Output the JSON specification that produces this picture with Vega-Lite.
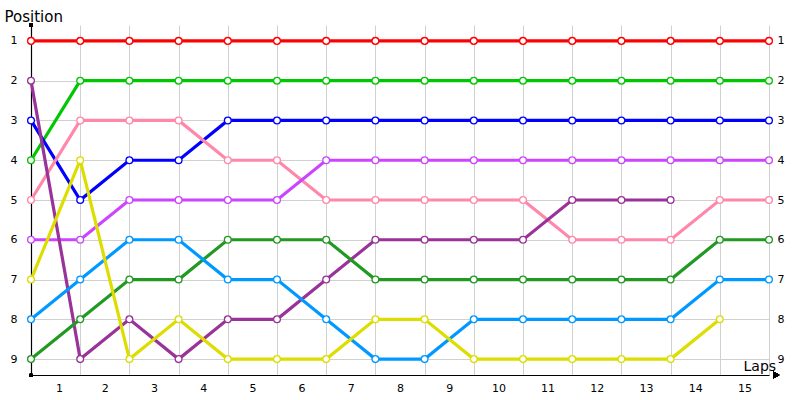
{
  "$schema": "https://vega.github.io/schema/vega-lite/v6.json",
  "width": 738,
  "height": 350,
  "autosize": {"type": "none"},
  "padding": {"left": 31, "top": 25, "right": 31, "bottom": 25},
  "background": "white",
  "config": {
    "view": {"stroke": null},
    "font": "DejaVu Sans",
    "axis": {"labelFont": "DejaVu Sans", "titleFont": "DejaVu Sans", "labelColor": "#000000", "titleColor": "#000000", "labelFontSize": 11, "titleFontWeight": "normal", "titleFontSize": 15, "gridColor": "#d0d0d0", "gridOpacity": 1, "gridWidth": 1}
  },
  "data": {"values": [
    {"car": "A", "lap": 0, "pos": 1}, {"car": "A", "lap": 1, "pos": 1}, {"car": "A", "lap": 2, "pos": 1}, {"car": "A", "lap": 3, "pos": 1}, {"car": "A", "lap": 4, "pos": 1}, {"car": "A", "lap": 5, "pos": 1}, {"car": "A", "lap": 6, "pos": 1}, {"car": "A", "lap": 7, "pos": 1}, {"car": "A", "lap": 8, "pos": 1}, {"car": "A", "lap": 9, "pos": 1}, {"car": "A", "lap": 10, "pos": 1}, {"car": "A", "lap": 11, "pos": 1}, {"car": "A", "lap": 12, "pos": 1}, {"car": "A", "lap": 13, "pos": 1}, {"car": "A", "lap": 14, "pos": 1}, {"car": "A", "lap": 15, "pos": 1},
    {"car": "B", "lap": 0, "pos": 4}, {"car": "B", "lap": 1, "pos": 2}, {"car": "B", "lap": 2, "pos": 2}, {"car": "B", "lap": 3, "pos": 2}, {"car": "B", "lap": 4, "pos": 2}, {"car": "B", "lap": 5, "pos": 2}, {"car": "B", "lap": 6, "pos": 2}, {"car": "B", "lap": 7, "pos": 2}, {"car": "B", "lap": 8, "pos": 2}, {"car": "B", "lap": 9, "pos": 2}, {"car": "B", "lap": 10, "pos": 2}, {"car": "B", "lap": 11, "pos": 2}, {"car": "B", "lap": 12, "pos": 2}, {"car": "B", "lap": 13, "pos": 2}, {"car": "B", "lap": 14, "pos": 2}, {"car": "B", "lap": 15, "pos": 2},
    {"car": "C", "lap": 0, "pos": 3}, {"car": "C", "lap": 1, "pos": 5}, {"car": "C", "lap": 2, "pos": 4}, {"car": "C", "lap": 3, "pos": 4}, {"car": "C", "lap": 4, "pos": 3}, {"car": "C", "lap": 5, "pos": 3}, {"car": "C", "lap": 6, "pos": 3}, {"car": "C", "lap": 7, "pos": 3}, {"car": "C", "lap": 8, "pos": 3}, {"car": "C", "lap": 9, "pos": 3}, {"car": "C", "lap": 10, "pos": 3}, {"car": "C", "lap": 11, "pos": 3}, {"car": "C", "lap": 12, "pos": 3}, {"car": "C", "lap": 13, "pos": 3}, {"car": "C", "lap": 14, "pos": 3}, {"car": "C", "lap": 15, "pos": 3},
    {"car": "D", "lap": 0, "pos": 5}, {"car": "D", "lap": 1, "pos": 3}, {"car": "D", "lap": 2, "pos": 3}, {"car": "D", "lap": 3, "pos": 3}, {"car": "D", "lap": 4, "pos": 4}, {"car": "D", "lap": 5, "pos": 4}, {"car": "D", "lap": 6, "pos": 5}, {"car": "D", "lap": 7, "pos": 5}, {"car": "D", "lap": 8, "pos": 5}, {"car": "D", "lap": 9, "pos": 5}, {"car": "D", "lap": 10, "pos": 5}, {"car": "D", "lap": 11, "pos": 6}, {"car": "D", "lap": 12, "pos": 6}, {"car": "D", "lap": 13, "pos": 6}, {"car": "D", "lap": 14, "pos": 5}, {"car": "D", "lap": 15, "pos": 5},
    {"car": "E", "lap": 0, "pos": 6}, {"car": "E", "lap": 1, "pos": 6}, {"car": "E", "lap": 2, "pos": 5}, {"car": "E", "lap": 3, "pos": 5}, {"car": "E", "lap": 4, "pos": 5}, {"car": "E", "lap": 5, "pos": 5}, {"car": "E", "lap": 6, "pos": 4}, {"car": "E", "lap": 7, "pos": 4}, {"car": "E", "lap": 8, "pos": 4}, {"car": "E", "lap": 9, "pos": 4}, {"car": "E", "lap": 10, "pos": 4}, {"car": "E", "lap": 11, "pos": 4}, {"car": "E", "lap": 12, "pos": 4}, {"car": "E", "lap": 13, "pos": 4}, {"car": "E", "lap": 14, "pos": 4}, {"car": "E", "lap": 15, "pos": 4},
    {"car": "F", "lap": 0, "pos": 2}, {"car": "F", "lap": 1, "pos": 9}, {"car": "F", "lap": 2, "pos": 8}, {"car": "F", "lap": 3, "pos": 9}, {"car": "F", "lap": 4, "pos": 8}, {"car": "F", "lap": 5, "pos": 8}, {"car": "F", "lap": 6, "pos": 7}, {"car": "F", "lap": 7, "pos": 6}, {"car": "F", "lap": 8, "pos": 6}, {"car": "F", "lap": 9, "pos": 6}, {"car": "F", "lap": 10, "pos": 6}, {"car": "F", "lap": 11, "pos": 5}, {"car": "F", "lap": 12, "pos": 5}, {"car": "F", "lap": 13, "pos": 5},
    {"car": "G", "lap": 0, "pos": 9}, {"car": "G", "lap": 1, "pos": 8}, {"car": "G", "lap": 2, "pos": 7}, {"car": "G", "lap": 3, "pos": 7}, {"car": "G", "lap": 4, "pos": 6}, {"car": "G", "lap": 5, "pos": 6}, {"car": "G", "lap": 6, "pos": 6}, {"car": "G", "lap": 7, "pos": 7}, {"car": "G", "lap": 8, "pos": 7}, {"car": "G", "lap": 9, "pos": 7}, {"car": "G", "lap": 10, "pos": 7}, {"car": "G", "lap": 11, "pos": 7}, {"car": "G", "lap": 12, "pos": 7}, {"car": "G", "lap": 13, "pos": 7}, {"car": "G", "lap": 14, "pos": 6}, {"car": "G", "lap": 15, "pos": 6},
    {"car": "H", "lap": 0, "pos": 8}, {"car": "H", "lap": 1, "pos": 7}, {"car": "H", "lap": 2, "pos": 6}, {"car": "H", "lap": 3, "pos": 6}, {"car": "H", "lap": 4, "pos": 7}, {"car": "H", "lap": 5, "pos": 7}, {"car": "H", "lap": 6, "pos": 8}, {"car": "H", "lap": 7, "pos": 9}, {"car": "H", "lap": 8, "pos": 9}, {"car": "H", "lap": 9, "pos": 8}, {"car": "H", "lap": 10, "pos": 8}, {"car": "H", "lap": 11, "pos": 8}, {"car": "H", "lap": 12, "pos": 8}, {"car": "H", "lap": 13, "pos": 8}, {"car": "H", "lap": 14, "pos": 7}, {"car": "H", "lap": 15, "pos": 7},
    {"car": "I", "lap": 0, "pos": 7}, {"car": "I", "lap": 1, "pos": 4}, {"car": "I", "lap": 2, "pos": 9}, {"car": "I", "lap": 3, "pos": 8}, {"car": "I", "lap": 4, "pos": 9}, {"car": "I", "lap": 5, "pos": 9}, {"car": "I", "lap": 6, "pos": 9}, {"car": "I", "lap": 7, "pos": 8}, {"car": "I", "lap": 8, "pos": 8}, {"car": "I", "lap": 9, "pos": 9}, {"car": "I", "lap": 10, "pos": 9}, {"car": "I", "lap": 11, "pos": 9}, {"car": "I", "lap": 12, "pos": 9}, {"car": "I", "lap": 13, "pos": 9}, {"car": "I", "lap": 14, "pos": 8}
  ]},
  "resolve": {"axis": {"y": "independent"}},
  "layer": [
    {
      "mark": {"type": "line", "strokeWidth": 3.2, "clip": false},
      "encoding": {
        "x": {"field": "lap", "type": "quantitative", "scale": {"domain": [0, 15], "nice": false, "zero": false},
          "axis": {"values": [0,1,2,3,4,5,6,7,8,9,10,11,12,13,14,15], "labelExpr": "datum.value < 15 ? datum.value + 1 : ''", "labelOffset": 24.6, "labelPadding": 7, "labelFontSize": 11, "ticks": false, "tickSize": 0, "grid": true, "domainColor": "#000000", "domainWidth": 1.2, "title": "Laps", "titleAngle": 0, "titleAlign": "left", "titleBaseline": "alphabetic", "titleX": 712, "titleY": -5, "titleFontSize": 14}},
        "y": {"field": "pos", "type": "quantitative", "scale": {"domain": [0.6, 9.4], "reverse": true, "nice": false, "zero": false},
          "axis": {"orient": "left", "values": [1,2,3,4,5,6,7,8,9], "ticks": false, "tickSize": 0, "labelPadding": 14, "grid": true, "domainColor": "#000000", "domainWidth": 1.2, "title": "Position", "titleAngle": 0, "titleAlign": "left", "titleBaseline": "alphabetic", "titleX": -27, "titleY": -4, "titleFontSize": 15}},
        "color": {"field": "car", "type": "nominal", "legend": null,
          "scale": {"domain": ["A","B","C","D","E","F","G","H","I"], "range": ["#ff0000","#00c800","#0000ff","#ff88aa","#cc44ff","#993399","#229922","#0099ff","#dddd00"]}}
      }
    },
    {
      "mark": {"type": "point", "filled": false, "fill": "white", "fillOpacity": 1, "opacity": 1, "strokeWidth": 1.3, "size": 46, "clip": false},
      "encoding": {
        "x": {"field": "lap", "type": "quantitative"},
        "y": {"field": "pos", "type": "quantitative",
          "axis": {"orient": "right", "values": [1,2,3,4,5,6,7,8,9], "ticks": false, "tickSize": 0, "labelPadding": 8, "grid": false, "domain": false, "title": null}},
        "color": {"field": "car", "type": "nominal", "legend": null}
      }
    },
    {
      "mark": {"type": "point", "filled": true, "color": "#000000", "opacity": 1, "size": 14, "clip": false},
      "encoding": {
        "x": {"datum": 0, "type": "quantitative"},
        "y": {"datum": 0.6, "type": "quantitative", "axis": null}
      }
    },
    {
      "mark": {"type": "point", "filled": true, "color": "#000000", "opacity": 1, "size": 10, "clip": false},
      "encoding": {
        "x": {"datum": 0, "type": "quantitative"},
        "y": {"datum": 9.4, "type": "quantitative", "axis": null}
      }
    },
    {
      "mark": {"type": "point", "filled": true, "shape": "triangle-right", "color": "#000000", "opacity": 1, "size": 40, "clip": false},
      "encoding": {
        "x": {"datum": 15.15, "type": "quantitative"},
        "y": {"datum": 9.4, "type": "quantitative", "axis": null}
      }
    }
  ]
}
